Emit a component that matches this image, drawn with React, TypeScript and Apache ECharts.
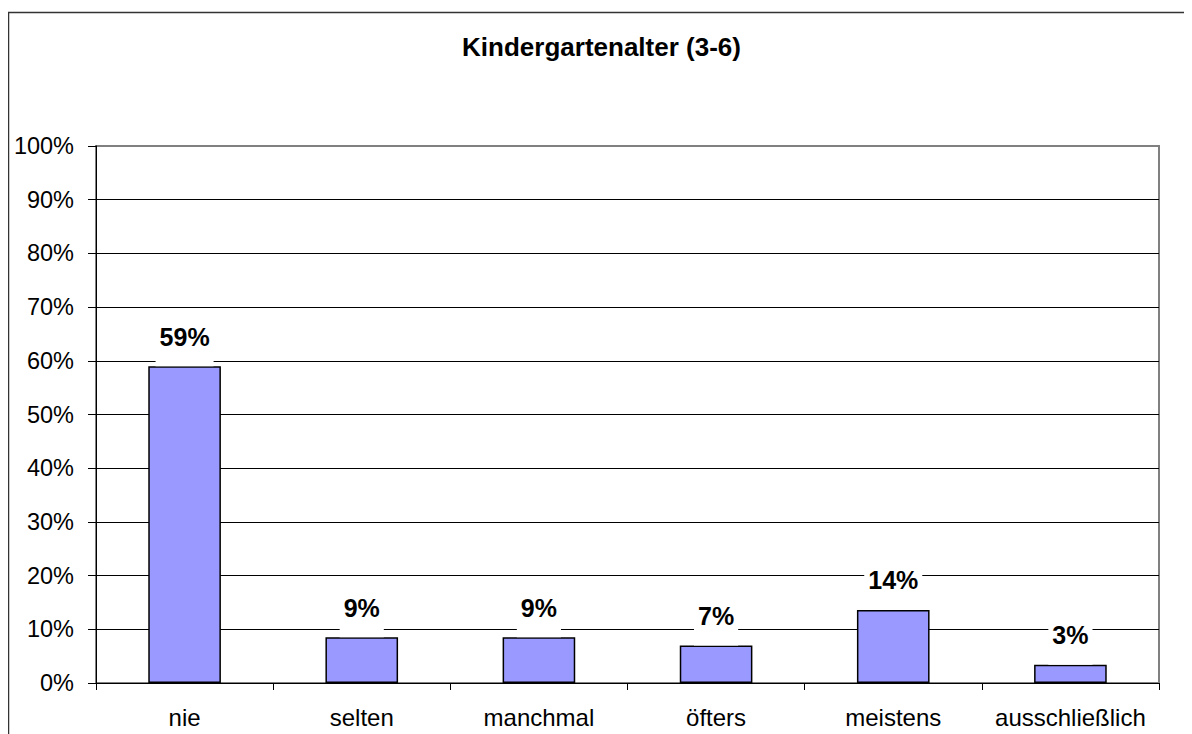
import React, { useEffect, useRef } from "react";
import * as echarts from "echarts";

const title = "Kindergartenalter (3-6)";
const categories = ["nie", "selten", "manchmal", "öfters", "meistens", "ausschließlich"];
const values = [59, 8.5, 8.5, 7, 13.6, 3.4];
const valueLabels = ["59%", "9%", "9%", "7%", "14%", "3%"];
const yTicks = [0, 10, 20, 30, 40, 50, 60, 70, 80, 90, 100];

const FONT = "'Liberation Sans', Arial, Helvetica, sans-serif";

export default function App() {
  const ref = useRef<HTMLDivElement>(null);
  useEffect(() => {
    if (!ref.current) return;
    const chart = echarts.init(ref.current, undefined, { renderer: "svg" });
    chart.setOption({
      animation: false,
      backgroundColor: "#ffffff",
      textStyle: { fontFamily: FONT },
      graphic: [
        {
          type: "rect",
          z: -10,
          shape: { x: 0.5, y: 4.5, width: 3000, height: 3000 },
          style: { fill: "none", stroke: "#333333", lineWidth: 1.5 },
          silent: true,
        },
        {
          type: "text",
          x: 593.5,
          y: 38.5,
          style: {
            text: title,
            fontFamily: FONT,
            fontSize: 26,
            fontWeight: "bold",
            fill: "#000000",
            textAlign: "center",
            textVerticalAlign: "middle",
          },
        },
      ],
      grid: {
        left: 88,
        top: 138,
        width: 1063,
        height: 537,
        show: true,
        borderColor: "#808080",
        borderWidth: 2,
        backgroundColor: "#ffffff",
        containLabel: false,
      },
      xAxis: {
        type: "category",
        data: categories,
        boundaryGap: true,
        axisLine: { show: true, lineStyle: { color: "#000000", width: 1 } },
        axisTick: { show: true, length: 7, interval: 0, alignWithLabel: false, lineStyle: { color: "#000000" } },
        axisLabel: { fontSize: 24, color: "#000000", fontFamily: FONT, margin: 22, interval: 0 },
        splitLine: { show: false },
      },
      yAxis: {
        type: "value",
        min: 0,
        max: 100,
        interval: 10,
        axisLine: { show: true, lineStyle: { color: "#000000", width: 1 } },
        axisTick: { show: true, length: 8, lineStyle: { color: "#000000" } },
        axisLabel: {
          fontSize: 23.5,
          color: "#000000",
          fontFamily: FONT,
          margin: 22,
          formatter: (v: number) => (yTicks.includes(v) ? v + "%" : ""),
        },
        splitLine: {
          show: true,
          showMinLine: false,
          showMaxLine: false,
          lineStyle: { color: "#000000", width: 1 },
        },
      },
      series: [
        {
          type: "bar",
          data: values,
          barWidth: "41%",
          itemStyle: { color: "#9999FF", borderColor: "#000000", borderWidth: 1.5 },
          label: {
            show: true,
            position: "top",
            distance: 0,
            formatter: (p: any) => valueLabels[p.dataIndex],
            fontFamily: FONT,
            fontSize: 25,
            fontWeight: "bold",
            color: "#000000",
            lineHeight: 25,
            backgroundColor: "#ffffff",
            padding: [5, 4, 17, 4],
          },
        },
      ],
    });
    return () => chart.dispose();
  }, []);
  return <div ref={ref} style={{ width: 1184, height: 726 }} />;
}
